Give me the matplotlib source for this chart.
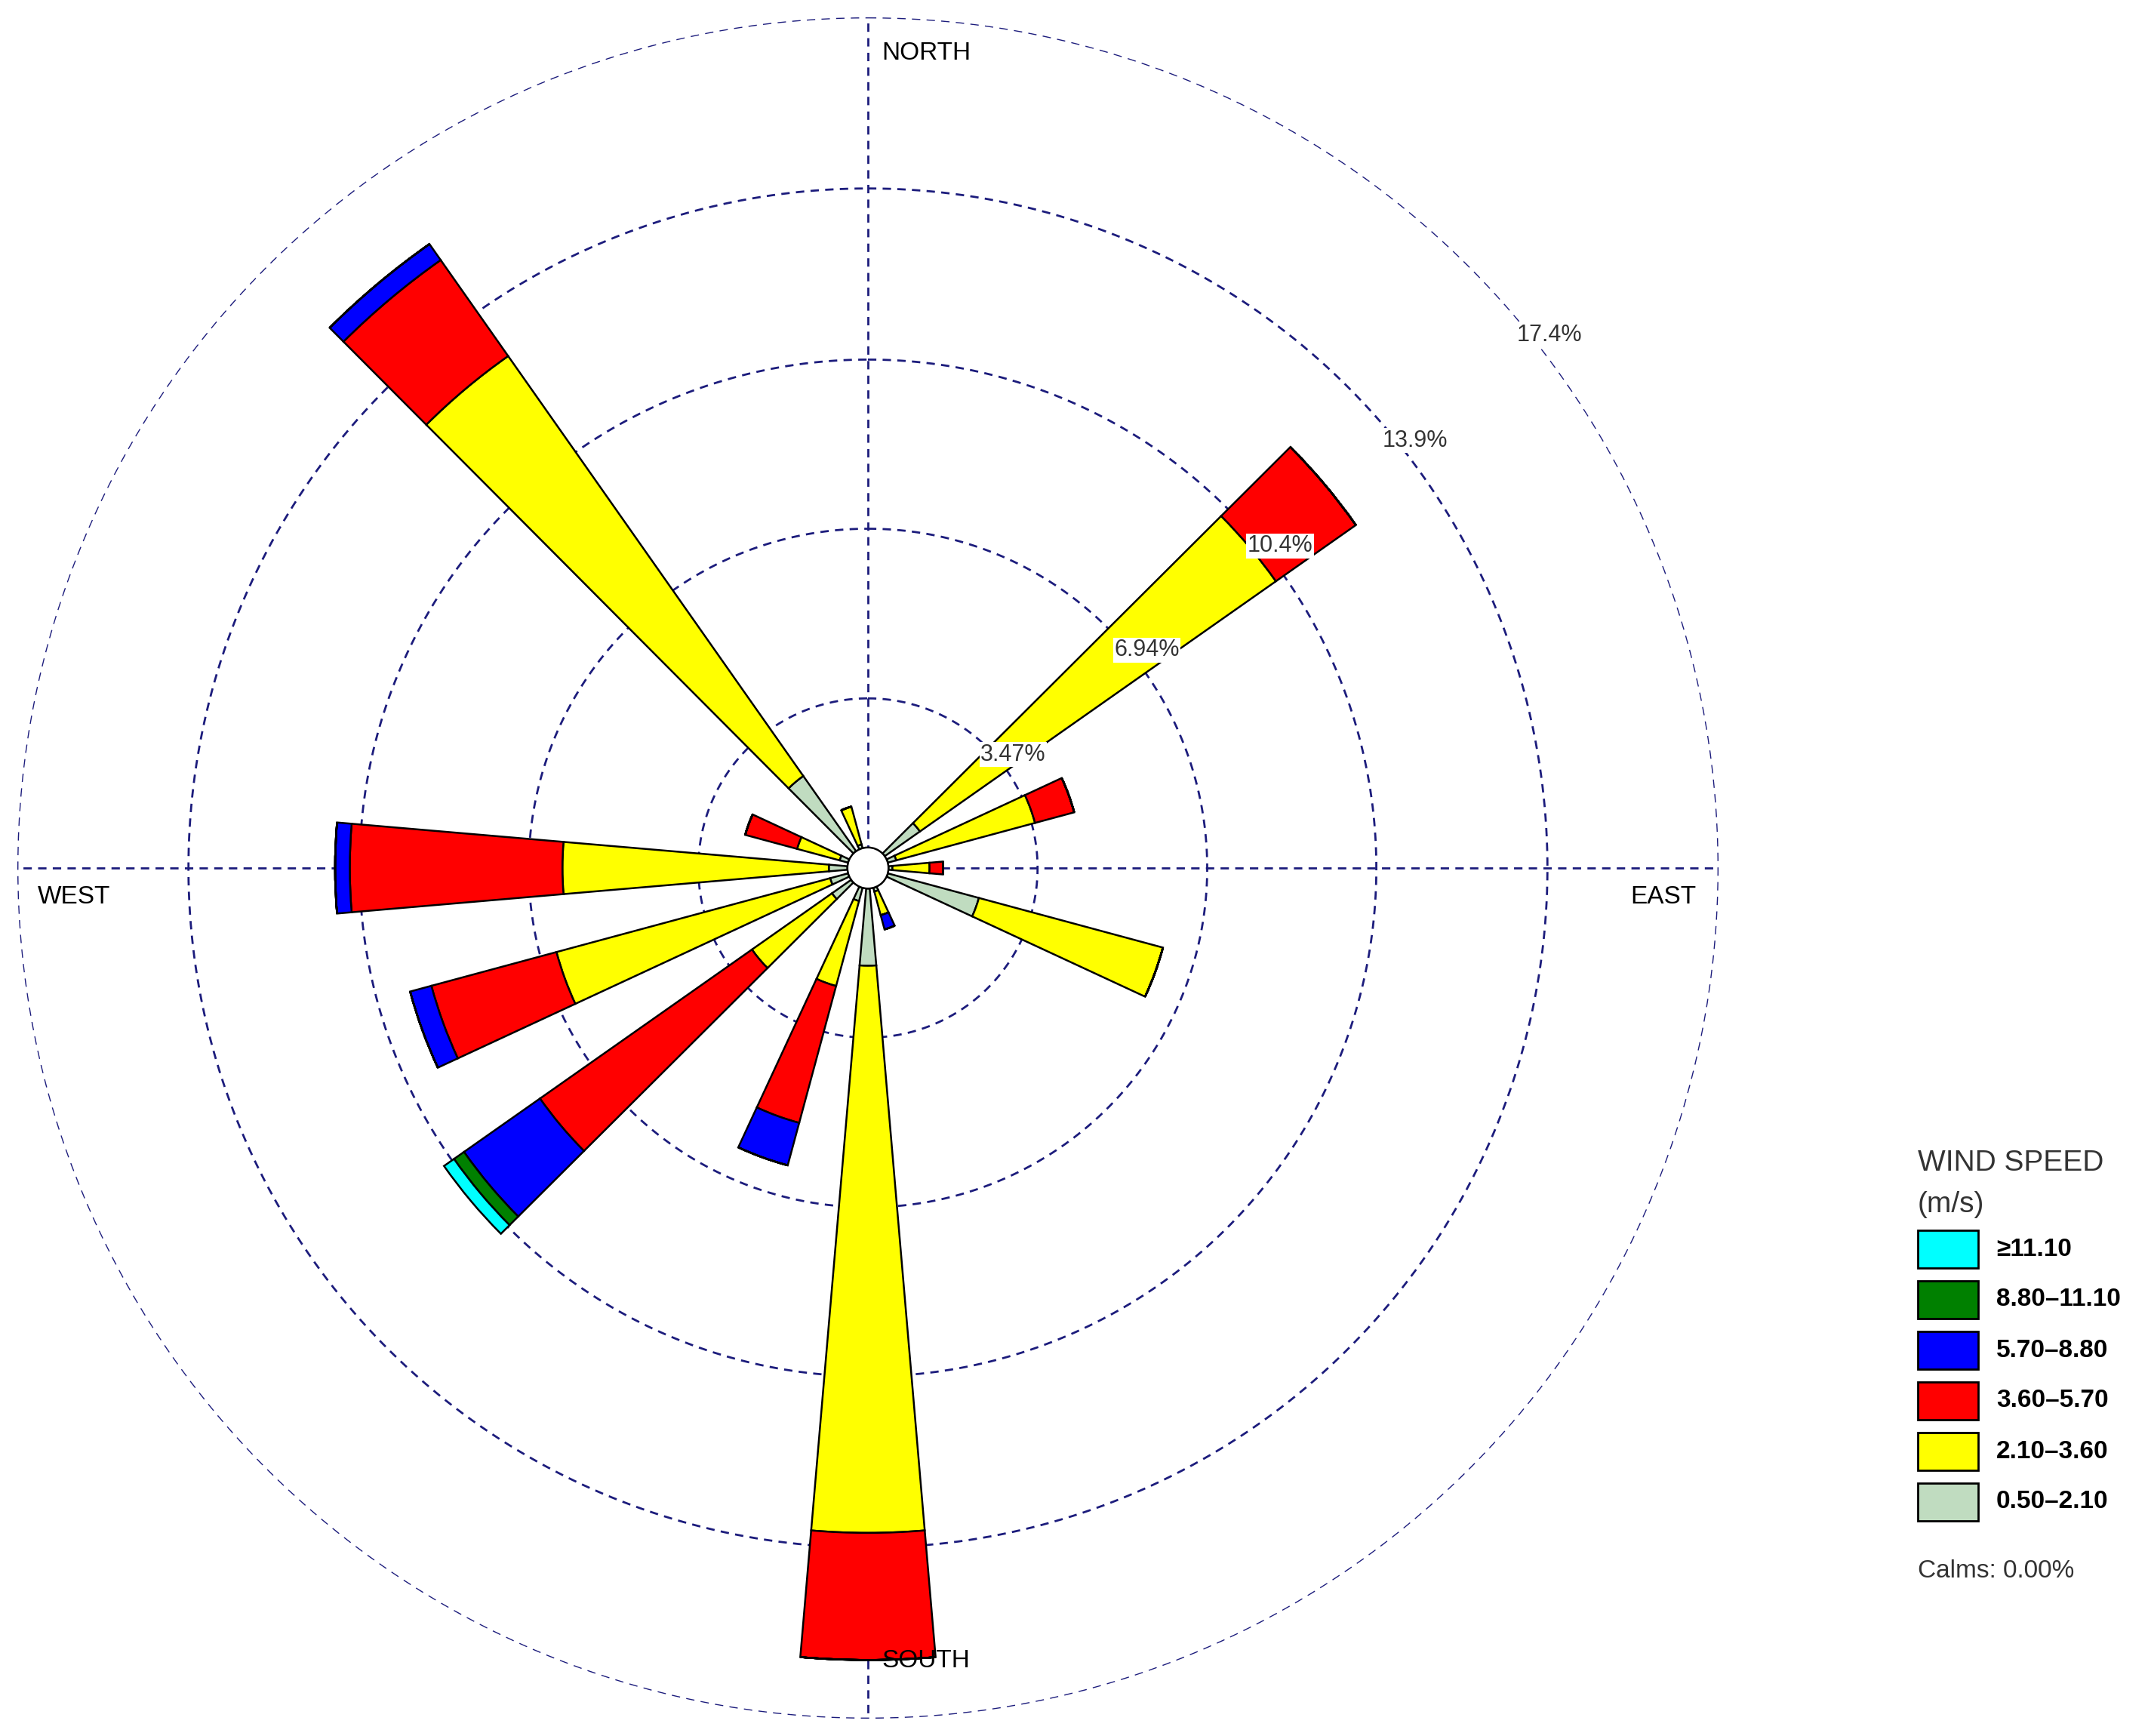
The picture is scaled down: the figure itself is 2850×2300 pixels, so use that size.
import matplotlib
matplotlib.use("Agg")

import numpy as np
import matplotlib.pyplot as plt
from matplotlib.patches import Rectangle, Circle

# directions in degrees, frequencies in percent per speed class
directions = [50, 70, 90, 110, 160, 180, 200, 230, 250, 270, 290, 320, 340]
calm_ring = 0.42
spd_050_210 = [0.88, 0.18, 0.08, 1.93, 0.08, 1.58, 0.28, 0.48, 0.38, 0.38, 0.18, 1.88, 0.08]
spd_210_360 = [8.9, 2.94, 0.76, 3.9, 0.5, 11.6, 1.8, 2.0, 5.8, 5.45, 0.9, 10.5, 0.8]
spd_360_570 = [2.0, 0.83, 0.28, 0.0, 0.0, 2.6, 2.9, 5.3, 2.65, 4.35, 1.1, 2.4, 0.0]
spd_570_880 = [0.0, 0.0, 0.0, 0.0, 0.3, 0.0, 0.9, 1.9, 0.45, 0.3, 0.0, 0.4, 0.0]
spd_880_1110 = [0, 0, 0, 0, 0, 0, 0, 0.25, 0, 0, 0, 0, 0]
spd_1110_up = [0, 0, 0, 0, 0, 0, 0, 0.25, 0, 0, 0, 0, 0]

classes = [spd_050_210, spd_210_360, spd_360_570, spd_570_880, spd_880_1110, spd_1110_up]
class_colors = ["#c0dcc0", "#ffff00", "#ff0000", "#0000ff", "#008000", "#00ffff"]
class_labels = ["0.50\u20132.10", "2.10\u20133.60", "3.60\u20135.70",
                "5.70\u20138.80", "8.80\u201311.10", "\u226511.10"]

rings = [3.47, 6.94, 10.4, 13.9, 17.4]
ring_labels = ["3.47%", "6.94%", "10.4%", "13.9%", "17.4%"]
grid_col = "#1c1c7c"

plt.rcParams["font.family"] = ["Liberation Sans", "DejaVu Sans"]

fig = plt.figure(figsize=(28.5, 23), dpi=100)
ax = fig.add_axes([23 / 2850, 23 / 2300, 2254 / 2850, 2254 / 2300], projection="polar")
ax.set_theta_zero_location("N")
ax.set_theta_direction(-1)
ax.set_ylim(0, 17.4)
ax.set_xticks([])
ax.set_yticks([])
ax.grid(False)
ax.spines["polar"].set_visible(False)

# grid rings and cross
tt = np.linspace(0, 2 * np.pi, 400)
for r in rings:
    ax.plot(tt, np.full_like(tt, r), color=grid_col, lw=2, ls=(0, (4, 3)), zorder=1)
for a in [0, 90, 180, 270]:
    ax.plot([np.radians(a)] * 2, [0, 17.4], color=grid_col, lw=2, ls=(0, (4, 3)), zorder=1)

theta = np.radians(directions)
width = np.radians(9.8)
bottom = np.full(len(directions), calm_ring)
for vals, col in zip(classes, class_colors):
    vals = np.array(vals, dtype=float)
    ax.bar(theta, vals, width=width, bottom=bottom, color=col, edgecolor="black",
           linewidth=1.8, zorder=3)
    bottom = bottom + vals

ax.add_patch(Circle((0.5, 0.5), calm_ring / 17.4 / 2, transform=ax.transAxes,
                    facecolor="white", edgecolor="black", lw=1.8, zorder=5))

for r, lab in zip(rings, ring_labels):
    ax.text(np.radians(52), r + 0.3, lab, fontsize=22, color="#333333", ha="center",
            va="center", zorder=6,
            bbox=dict(facecolor="white", edgecolor="none", pad=1))

ax.text(0.508, 0.986, "NORTH", transform=ax.transAxes, fontsize=24, ha="left", va="top", zorder=6)
ax.text(0.508, 0.027, "SOUTH", transform=ax.transAxes, fontsize=24, ha="left", va="bottom", zorder=6,
        bbox=dict(facecolor="none", edgecolor="none", pad=0))
ax.text(0.012, 0.49, "WEST", transform=ax.transAxes, fontsize=24, ha="left", va="top", zorder=6)
ax.text(0.987, 0.49, "EAST", transform=ax.transAxes, fontsize=24, ha="right", va="top", zorder=6)

# legend
W, H = 2850, 2300
fig.text(2541 / W, 1 - 1541 / H, "WIND SPEED", fontsize=28, color="#333333", va="center")
fig.text(2541 / W, 1 - 1596 / H, "(m/s)", fontsize=28, color="#333333", va="center")
y0 = 1655
for i, (col, lab) in enumerate(zip(class_colors[::-1], class_labels[::-1])):
    yc = y0 + i * 67
    fig.patches.append(Rectangle((2541 / W, 1 - (yc + 25) / H), 80 / W, 50 / H,
                                 transform=fig.transFigure, facecolor=col,
                                 edgecolor="black", lw=2))
    fig.text(2645 / W, 1 - yc / H, lab, fontsize=24, fontweight="bold", va="center")
fig.text(2541 / W, 1 - 2081 / H, "Calms: 0.00%", fontsize=24, color="#333333", va="center")

fig.savefig("out.png", dpi=100, facecolor="white")
